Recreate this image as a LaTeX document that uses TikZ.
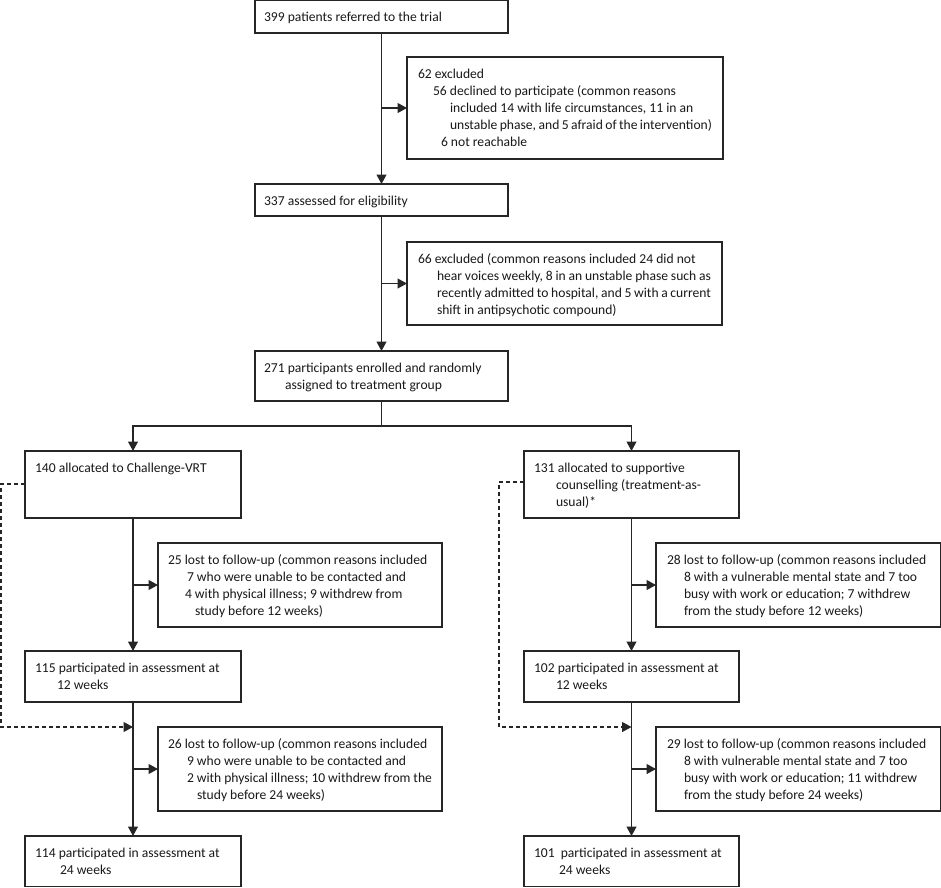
\documentclass[tikz,border=0pt]{standalone}
\usepackage{fontspec}
\setmainfont{Carlito}
\usetikzlibrary{arrows.meta,calc}
\tikzset{
  boxst/.style={draw=black!85, line width=1.2pt, inner ysep=0pt, outer sep=0pt, text=black!90},
  arr/.style={draw=black!85, line width=1.2pt, -{Triangle[length=9.5pt,width=10pt]}},
  plain/.style={draw=black!85, line width=1.2pt},
  dashst/.style={dash pattern=on 4pt off 3pt}
}
\newcommand{\mybox}[7]{\node[boxst, inner xsep=#6pt, anchor=north west] (#1) at (#2,#3)
  {\parbox[c][#5pt][t]{\dimexpr#4pt-#6pt-#6pt\relax}{\fontsize{13.6}{17}\selectfont\rule{0pt}{21pt}#7}};}
\newcommand{\ind}[1]{\hspace*{#1pt}}
\begin{document}
\begin{tikzpicture}[x=1pt,y=-1pt]
\useasboundingbox[fill=white] (0,0) rectangle (941,887);
\mybox{b1}{255}{0.6}{253}{32.4}{9}{399 patients referred to the trial}
\mybox{e1}{407}{57}{316}{102}{11}{62 excluded\\
\ind{15}56 declined to participate (common reasons\\
\ind{32}included 14 with life circumstances, 11 in an\\
\ind{32}unstable phase, and 5 afraid of the intervention)\\
\ind{23}6 not reachable}
\mybox{b2}{255}{184}{253}{32}{9}{337 assessed for eligibility}
\mybox{e2}{407}{242}{315}{83}{11}{66 excluded (common reasons included 24 did not\\
\ind{19}hear voices weekly, 8 in an unstable phase such as\\
\ind{19}recently admitted to hospital, and 5 with a current\\
\ind{19}shift in antipsychotic compound)}
\mybox{b3}{255}{351}{253}{50}{9}{271 participants enrolled and randomly\\
\ind{21}assigned to treatment group}
% left column
\mybox{L1}{25}{451}{216}{67}{10}{140 allocated to Challenge-VRT}
\mybox{Ll1}{158}{543}{284}{84}{10}{25 lost to follow-up (common reasons included\\
\ind{19}7 who were unable to be contacted and\\
\ind{17}4 with physical illness; 9 withdrew from\\
\ind{27}study before 12 weeks)}
\mybox{L12}{25}{651}{216}{51}{10}{115 participated in assessment at\\
\ind{22}12 weeks}
\mybox{Ll2}{158}{727}{284}{84}{10}{26 lost to follow-up (common reasons included\\
\ind{19}9 who were unable to be contacted and\\
\ind{19}2 with physical illness; 10 withdrew from the\\
\ind{29}study before 24 weeks)}
\mybox{L24}{25}{836}{216}{50.4}{10}{114 participated in assessment at\\
\ind{25}24 weeks}
% right column
\mybox{R1}{524}{451}{215}{67}{10}{131 allocated to supportive\\
\ind{22}counselling (treatment-as-\\
\ind{22}usual)*}
\mybox{Rl1}{656}{543}{284.4}{84}{11}{28 lost to follow-up (common reasons included\\
\ind{17}8 with a vulnerable mental state and 7 too\\
\ind{17}busy with work or education; 7 withdrew\\
\ind{17}from the study before 12 weeks)}
\mybox{R12}{524}{651}{215}{51}{10}{102 participated in assessment at\\
\ind{22}12 weeks}
\mybox{Rl2}{656}{727}{284.4}{84}{11}{29 lost to follow-up (common reasons included\\
\ind{17}8 with vulnerable mental state and 7 too\\
\ind{17}busy with work or education; 11 withdrew\\
\ind{17}from the study before 24 weeks)}
\mybox{R24}{524}{836}{215}{50.4}{10}{101\ \ participated in assessment at\\
\ind{25}24 weeks}
% connectors top
\draw[arr] (b1.south) -- (b2.north);
\draw[arr] (b1.south |- e1.west) -- (e1.west);
\draw[arr] (b2.south) -- (b3.north);
\draw[arr] (b2.south |- e2.west) -- (e2.west);
\coordinate (sp) at ($(b3.south)+(0,25)$);
\draw[plain] (b3.south) -- (sp);
\draw[arr] (sp) -| (L1.north);
\draw[arr] (sp) -| (R1.north);
% left flow
\draw[arr] (L1.south) -- (L12.north);
\draw[arr] (L1.south |- Ll1.west) -- (Ll1.west);
\draw[arr] (L12.south) -- (L24.north);
\draw[arr] (L12.south |- Ll2.west) -- (Ll2.west);
% right flow
\draw[arr] (R1.south) -- (R12.north);
\draw[arr] (R1.south |- Rl1.west) -- (Rl1.west);
\draw[arr] (R12.south) -- (R24.north);
\draw[arr] (R12.south |- Rl2.west) -- (Rl2.west);
% dashed
\coordinate (Ld1) at ($(L1.north west)+(0,33)$);
\coordinate (Ld2) at (1,484);
\coordinate (Ld3) at (1,727);
\draw[arr,dashst] (Ld1) -- (Ld2) -- (Ld3) -- (L12.south |- Ll2.north);
\coordinate (Rd1) at ($(R1.north west)+(0,31)$);
\coordinate (Rd2) at (499,482);
\coordinate (Rd3) at (499,727);
\draw[arr,dashst] (Rd1) -- (Rd2) -- (Rd3) -- (R12.south |- Rl2.north);
\end{tikzpicture}
\end{document}
